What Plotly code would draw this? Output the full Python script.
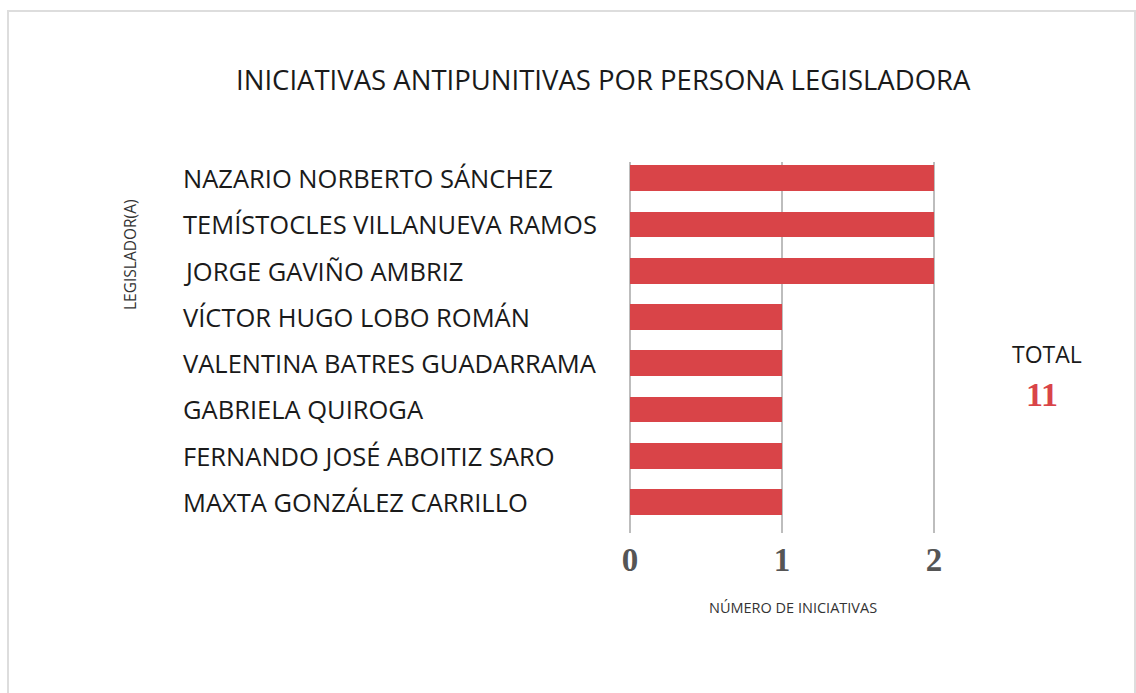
import plotly.graph_objects as go

# Legisladores y número de iniciativas antipunitivas
legisladores = [
    "NAZARIO NORBERTO SÁNCHEZ",
    "TEMÍSTOCLES VILLANUEVA RAMOS",
    "JORGE GAVIÑO AMBRIZ",
    "VÍCTOR HUGO LOBO ROMÁN",
    "VALENTINA BATRES GUADARRAMA",
    "GABRIELA QUIROGA",
    "FERNANDO JOSÉ ABOITIZ SARO",
    "MAXTA GONZÁLEZ CARRILLO",
]
iniciativas = [2, 2, 2, 1, 1, 1, 1, 1]
x_ticks = [0, 1, 2]
total = 11

W, H = 1136, 693
L, R, T, B = 627, 937, 162, 533  # plot area in pixels
X_RANGE = [-0.02, 2.02]


def px(x):
    return (x - L) / (R - L)


def py(y):
    return (B - y) / (B - T)


SANS = "Open Sans, sans-serif"
label_font = dict(family=SANS, size=25.5, color="#1a1a1a")
y_pos = list(range(len(legisladores)))

fig = go.Figure(
    go.Bar(
        x=iniciativas,
        y=y_pos,
        orientation="h",
        marker=dict(color="#d94448", line=dict(width=0)),
        width=0.56,
        hoverinfo="skip",
    )
)

annotations = []
for i, name in enumerate(legisladores):
    annotations.append(dict(
        x=px(181), y=i, xref="paper", yref="y", text=name, showarrow=False,
        xanchor="left", yanchor="middle", font=label_font,
    ))

annotations += [
    dict(x=px(603), y=py(80), xref="paper", yref="paper",
         text="INICIATIVAS ANTIPUNITIVAS POR PERSONA LEGISLADORA",
         showarrow=False, xanchor="center", yanchor="middle",
         font=dict(family=SANS, size=27.5, color="#1a1a1a")),
    dict(x=px(793), y=py(607), xref="paper", yref="paper",
         text="NÚMERO DE INICIATIVAS", showarrow=False,
         xanchor="center", yanchor="middle",
         font=dict(family=SANS, size=14.5, color="#333333")),
    dict(x=px(130), y=py(255), xref="paper", yref="paper",
         text="LEGISLADOR(A)", showarrow=False, textangle=-90,
         xanchor="center", yanchor="middle",
         font=dict(family=SANS, size=15.5, color="#333333")),
    dict(x=px(1047), y=py(354), xref="paper", yref="paper",
         text="TOTAL", showarrow=False, xanchor="center", yanchor="middle",
         font=dict(family=SANS, size=23, color="#1a1a1a")),
    dict(x=px(1042), y=py(394), xref="paper", yref="paper",
         text=f"<b>{total}</b>", showarrow=False, xanchor="center", yanchor="middle",
         font=dict(family="Liberation Serif, serif", size=34, color="#d94448")),
]

fig.update_layout(
    width=W, height=H,
    margin=dict(l=L, r=W - R, t=T, b=H - B),
    paper_bgcolor="white", plot_bgcolor="white",
    showlegend=False,
    annotations=annotations,
    bargap=0,
    xaxis=dict(
        range=X_RANGE, tickvals=x_ticks, ticktext=[f"<b>{v}</b>" for v in x_ticks],
        showgrid=True, gridcolor="#bdbdbd", gridwidth=2,
        zeroline=False, showline=False, ticks="",
        tickfont=dict(family="Liberation Serif, serif", size=33, color="#555555"),
        ticklabelstandoff=4,
    ),
    yaxis=dict(
        range=[7.67, -0.35], showticklabels=False, showgrid=False,
        zeroline=False, showline=False, ticks="",
    ),
    shapes=[
        dict(type="rect", xref="paper", yref="paper",
             x0=px(8), x1=px(1135), y0=py(700), y1=py(11),
             line=dict(color="#dddddd", width=2), fillcolor="rgba(0,0,0,0)",
             layer="below"),
    ],
)

fig.write_html("out.html")
